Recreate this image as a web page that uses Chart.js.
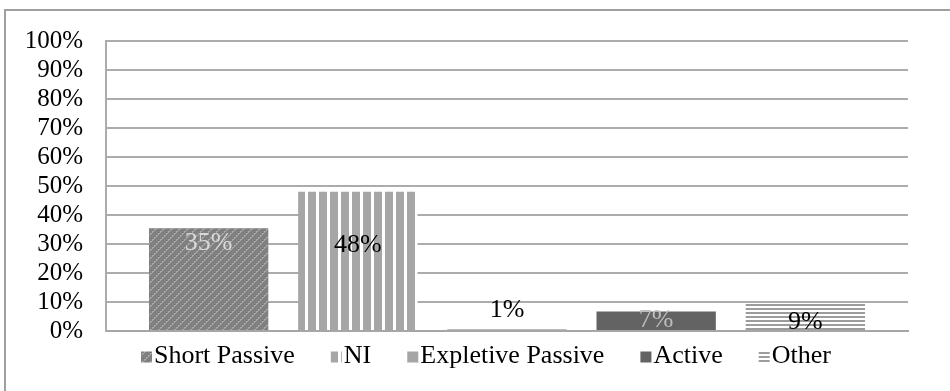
<!DOCTYPE html>
<html>
<head>
<meta charset="utf-8">
<script src="https://cdn.jsdelivr.net/npm/chart.js@4/dist/chart.umd.min.js"></script>
<style>
  html, body { margin: 0; padding: 0; background: #fff; }
  #wrap { width: 950px; height: 391px; position: relative; }
</style>
</head>
<body>
<div id="wrap"><canvas id="chart" width="950" height="391"></canvas></div>
<script>
const seriesNames = ["Short Passive", "NI", "Expletive Passive", "Active", "Other"];
const seriesValues = [35.4, 48.0, 0.6, 6.7, 9.3];
const categories = [""];
const yTicks = [0, 10, 20, 30, 40, 50, 60, 70, 80, 90, 100];

const FONT = "'Liberation Serif', 'Times New Roman', serif";

function makePattern(w, h, draw) {
  const c = document.createElement("canvas");
  c.width = w;
  c.height = h;
  const g = c.getContext("2d");
  draw(g, w, h);
  return g.createPattern(c, "repeat");
}

// dotted upward diagonal on dark gray
const diagPattern = makePattern(8, 8, (g, w, h) => {
  g.fillStyle = "#808080";
  g.fillRect(0, 0, w, h);
  g.fillStyle = "#a9a9a9";
  for (let i = 0; i < 8; i++) {
    if (i % 2 === 0) g.fillRect(i, 7 - i, 1, 1);
    g.fillRect(i, (8 - i) % 8, 1, 1);
  }
});

// vertical stripes
const vertPattern = makePattern(11, 4, (g, w, h) => {
  g.fillStyle = "#ffffff";
  g.fillRect(0, 0, w, h);
  g.fillStyle = "#a6a6a6";
  g.fillRect(0, 0, 8, h);
});

// horizontal stripes
const horizPattern = makePattern(4, 4, (g, w, h) => {
  g.fillStyle = "#ffffff";
  g.fillRect(0, 0, w, h);
  g.fillStyle = "#9c9c9c";
  g.fillRect(0, 0, w, 2);
});

const fills = [diagPattern, vertPattern, "#a5a5a5", "#636363", horizPattern];
const labelColors = ["#d9d9d9", "#000000", "#000000", "#bfbfbf", "#000000"];
const labelDy = [15, 53, -19, 9, 18];

const outerBorder = {
  id: "outerBorder",
  beforeDraw(chart) {
    const c = chart.ctx;
    c.save();
    c.fillStyle = "#ffffff";
    c.fillRect(0, 0, chart.width, chart.height);
    c.strokeStyle = "#a0a0a0";
    c.lineWidth = 2;
    c.strokeRect(5, 10, chart.width + 10, chart.height + 10);
    c.restore();
  }
};

const barLabels = {
  id: "barLabels",
  afterDatasetsDraw(chart) {
    const c = chart.ctx;
    c.save();
    c.font = "26px " + FONT;
    c.textAlign = "center";
    c.textBaseline = "middle";
    chart.data.datasets.forEach((ds, i) => {
      const bar = chart.getDatasetMeta(i).data[0];
      c.fillStyle = labelColors[i];
      c.fillText(Math.round(ds.data[0]) + "%", bar.x, bar.y + labelDy[i]);
    });
    c.restore();
  }
};

// Excel-like legend: small swatch hugging its text, wide gaps between items
const bottomLegend = {
  id: "bottomLegend",
  afterDraw(chart) {
    const c = chart.ctx;
    const box = 11, boxGap = 2, itemGap = 36, midY = 356, centerX = 486;
    c.save();
    c.font = "26px " + FONT;
    c.textBaseline = "middle";
    const items = chart.data.datasets.map(ds => ({
      ds,
      w: c.measureText(ds.label).width
    }));
    const total = items.reduce((s, it) => s + box + boxGap + it.w, 0) +
      itemGap * (items.length - 1);
    let x = Math.round(centerX - total / 2);
    items.forEach(it => {
      c.fillStyle = it.ds.backgroundColor;
      c.fillRect(x, midY - box / 2 + 1, box, box);
      c.fillStyle = "#000000";
      c.fillText(it.ds.label, x + box + boxGap, midY);
      x += box + boxGap + it.w + itemGap;
    });
    c.restore();
  }
};

const ctx = document.getElementById("chart").getContext("2d");
const chart = new Chart(ctx, {
  type: "bar",
  data: {
    labels: categories,
    datasets: seriesNames.map((name, i) => ({
      label: name,
      data: [seriesValues[i]],
      backgroundColor: fills[i],
      borderWidth: 0,
      categoryPercentage: 0.93,
      barPercentage: 0.8
    }))
  },
  options: {
    responsive: false,
    animation: false,
    layout: {
      padding: { top: 41, right: 42, left: 0, bottom: 60 }
    },
    scales: {
      x: {
        ticks: { display: false },
        grid: { display: false, drawTicks: false },
        border: { color: "#a6a6a6", width: 2 }
      },
      y: {
        min: 0,
        max: 100,
        afterBuildTicks: scale => {
          scale.ticks = yTicks.map(v => ({ value: v }));
        },
        afterFit: scale => {
          scale.width = 106;
        },
        ticks: {
          autoSkip: false,
          callback: v => v + "%",
          color: "#000000",
          padding: 23,
          font: { family: FONT, size: 25 }
        },
        grid: {
          color: "#acacac",
          lineWidth: 2,
          drawTicks: false
        },
        border: { color: "#acacac", width: 2 }
      }
    },
    plugins: {
      legend: { display: false },
      tooltip: { enabled: false }
    }
  },
  plugins: [outerBorder, barLabels, bottomLegend]
});
</script>
</body>
</html>
